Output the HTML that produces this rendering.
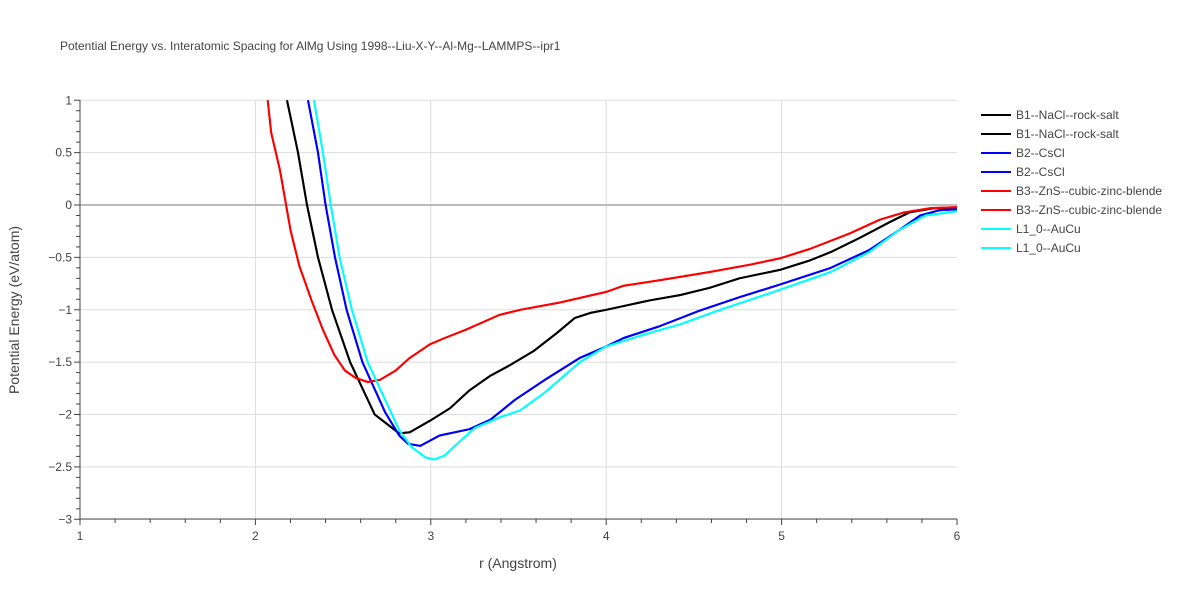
<!DOCTYPE html>
<html><head><meta charset="utf-8"><style>
body{margin:0;background:#fff;font-family:"Liberation Sans",sans-serif}
svg text{font-family:"Liberation Sans",sans-serif;fill:#444}
</style></head><body>
<svg id="chart" width="1200" height="600">
<rect width="1200" height="600" fill="#fff"/>
<text x="60" y="50" font-size="12">Potential Energy vs. Interatomic Spacing for AlMg Using 1998--Liu-X-Y--Al-Mg--LAMMPS--ipr1</text>
<defs><clipPath id="clip"><rect x="80" y="100" width="877" height="419"/></clipPath></defs>
<g id="grid"></g><g id="axes"></g>
<g id="series" clip-path="url(#clip)"></g>
<g id="legend"></g>
<text x="518" y="568" font-size="14" text-anchor="middle">r (Angstrom)</text>
<text transform="translate(19,310) rotate(-90)" font-size="14" text-anchor="middle">Potential Energy (eV/atom)</text>
</svg>
<script>
const xTicks=[1,2,3,4,5,6];
const yTicks=[1,0.5,0,-0.5,-1,-1.5,-2,-2.5,-3];
const yTickLabels=["1","0.5","0","−0.5","−1","−1.5","−2","−2.5","−3"];
const b1R=[2.18,2.243,2.294,2.357,2.437,2.54,2.68,2.82,2.88,2.995,3.11,3.22,3.34,3.45,3.59,3.72,3.82,3.91,4.0,4.25,4.42,4.59,4.76,4.99,5.16,5.28,5.45,5.62,5.73,5.87,6.0];
const b1E=[1.0,0.5,0,-0.5,-1,-1.5,-2,-2.18,-2.17,-2.06,-1.94,-1.77,-1.63,-1.53,-1.39,-1.22,-1.08,-1.03,-1.0,-0.91,-0.86,-0.79,-0.70,-0.62,-0.53,-0.45,-0.31,-0.16,-0.07,-0.03,-0.03];
const b2R=[2.30,2.357,2.40,2.454,2.52,2.61,2.74,2.82,2.87,2.94,3.05,3.22,3.34,3.48,3.65,3.85,4.0,4.1,4.3,4.53,4.76,4.99,5.28,5.5,5.67,5.79,5.9,6.0];
const b2E=[1.0,0.5,0,-0.5,-1,-1.5,-1.98,-2.2,-2.28,-2.3,-2.2,-2.14,-2.05,-1.86,-1.67,-1.46,-1.35,-1.27,-1.16,-1.01,-0.88,-0.76,-0.6,-0.43,-0.24,-0.1,-0.05,-0.04];
const b3R=[2.07,2.09,2.14,2.2,2.25,2.32,2.385,2.45,2.51,2.57,2.64,2.71,2.8,2.88,2.995,3.08,3.2,3.39,3.51,3.74,4.0,4.1,4.3,4.59,4.82,4.99,5.16,5.39,5.56,5.7,5.85,6.0];
const b3E=[1,0.69,0.33,-0.24,-0.58,-0.91,-1.19,-1.43,-1.58,-1.65,-1.69,-1.67,-1.58,-1.46,-1.33,-1.27,-1.19,-1.05,-1.0,-0.93,-0.83,-0.77,-0.72,-0.64,-0.57,-0.51,-0.42,-0.27,-0.14,-0.07,-0.03,-0.02];
const l10R=[2.334,2.385,2.43,2.48,2.55,2.64,2.74,2.82,2.89,2.97,3.02,3.08,3.17,3.25,3.39,3.51,3.65,3.85,4.0,4.25,4.42,4.65,4.99,5.28,5.5,5.67,5.82,6.0];
const l10E=[1,0.5,0,-0.5,-1,-1.5,-1.86,-2.15,-2.31,-2.41,-2.43,-2.39,-2.25,-2.13,-2.03,-1.96,-1.79,-1.5,-1.35,-1.22,-1.14,-1.0,-0.81,-0.64,-0.45,-0.24,-0.1,-0.06];
const seriesNames=["B1--NaCl--rock-salt","B1--NaCl--rock-salt","B2--CsCl","B2--CsCl","B3--ZnS--cubic-zinc-blende","B3--ZnS--cubic-zinc-blende","L1_0--AuCu","L1_0--AuCu"];
const seriesColors=["#000","#000","#00f","#00f","#f00","#f00","#0ff","#0ff"];
const X=r=>80+(r-1)*175.4, Y=e=>205-e*104.75;
const NS="http://www.w3.org/2000/svg";
function mk(tag,parent,attrs){const el=document.createElementNS(NS,tag);for(const k in attrs)el.setAttribute(k,attrs[k]);parent.appendChild(el);return el;}
const grid=document.getElementById('grid'),axes=document.getElementById('axes'),ser=document.getElementById('series'),leg=document.getElementById('legend');
xTicks.forEach(t=>{
 if(t>1&&t<6){const l=mk('line',grid,{x1:X(t),x2:X(t),y1:100,y2:519,stroke:'#ddd'});
 
 }
 const tx=mk('text',axes,{x:X(t),y:540,'font-size':12,'text-anchor':'middle'});tx.textContent=t;
 
 
});
for(let i=0;i<=25;i++){const r=1+i*0.2;mk('line',axes,{x1:X(r),x2:X(r),y1:519,y2:i%5==0?525:523,stroke:'#444'});}
yTicks.forEach((t,i)=>{
 const l=mk('line',grid,{x1:80,x2:957,y1:Y(t),y2:Y(t),stroke:t==0?'#bbb':'#ddd','stroke-width':t==0?2:1});
 
 
 const tx=mk('text',axes,{x:72,y:Y(t)+4,'font-size':12,'text-anchor':'end'});tx.textContent=yTickLabels[i];
 
 
});
for(let i=0;i<=40;i++){const e=1-i*0.1;mk('line',axes,{x1:80,x2:i%5==0?74:76,y1:Y(e),y2:Y(e),stroke:'#444'});}
mk('line',axes,{x1:80,x2:80,y1:100,y2:519,stroke:'#444'});
mk('line',axes,{x1:80,x2:957,y1:519,y2:519,stroke:'#444'});
const data=[[b1R,b1E],[b1R,b1E],[b2R,b2E],[b2R,b2E],[b3R,b3E],[b3R,b3E],[l10R,l10E],[l10R,l10E]];
data.forEach((d,i)=>{
 const pts=d[0].map((r,j)=>X(r).toFixed(1)+','+Y(d[1][j]).toFixed(1)).join(' ');
 const p=mk('polyline',ser,{points:pts,fill:'none',stroke:seriesColors[i],'stroke-width':2,'stroke-linejoin':'round'});
 
 
});
seriesNames.forEach((n,i)=>{
 const y=115+i*19;
 const g=mk('g',leg,{});
 
 
 mk('line',g,{x1:981,x2:1011,y1:y,y2:y,stroke:seriesColors[i],'stroke-width':2});
 const t=mk('text',g,{x:1016,y:y+4,'font-size':12});t.textContent=n;
});
</script>
</body></html>
